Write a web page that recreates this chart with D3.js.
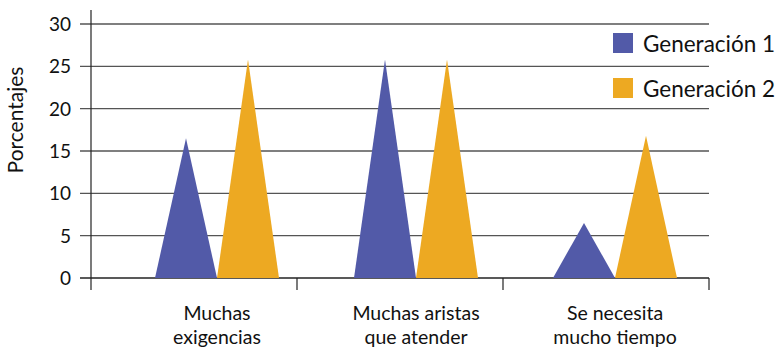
<!DOCTYPE html>
<html><head><meta charset="utf-8">
<script src="https://cdn.jsdelivr.net/npm/d3@7"></script>
<style>body{margin:0;background:#fff}svg{display:block}text{font-family:Lato,"Open Sans",sans-serif;fill:#111}</style>
</head><body><div id="c"></div>
<script>
const categories = [["Muchas","exigencias"],["Muchas aristas","que atender"],["Se necesita","mucho tiempo"]];
const seriesNames = ["Generación 1","Generación 2"];
const gen1 = [16.5, 25.8, 6.5];
const gen2 = [25.8, 25.8, 16.8];
const yTicks = [0,5,10,15,20,25,30];
const colors = ["#525aa8","#eda922"];

const W=783,H=350;
const svg=d3.select("#c").append("svg").attr("width",W).attr("height",H);
const y=d3.scaleLinear().domain([0,30]).range([278,24]);
const xb=d3.scaleBand().domain(d3.range(categories.length)).range([91,709]);
const xc=d3.scalePoint().domain(d3.range(categories.length)).range([217,615]);
const half=31;

// grid
svg.append("g").selectAll("line").data(yTicks).join("line")
 .attr("x1",80).attr("x2",709).attr("y1",d=>y(d)).attr("y2",d=>y(d))
 .attr("stroke",d=>d===0?"#222":"#555").attr("stroke-width",1.3);
svg.append("g").selectAll("text").data(yTicks).join("text")
 .attr("x",71).attr("y",d=>y(d)).attr("dy","0.36em").attr("text-anchor","end")
 .attr("font-size",19).text(d=>d);
// y axis line
svg.append("line").attr("x1",91).attr("x2",91).attr("y1",10).attr("y2",290).attr("stroke","#222").attr("stroke-width",1.2);
// category ticks
const bounds=d3.range(categories.length+1).map(i=>i<categories.length?xb(i):xb(i-1)+xb.bandwidth());
svg.append("g").selectAll("line").data(bounds.slice(1)).join("line")
 .attr("x1",d=>d).attr("x2",d=>d).attr("y1",278).attr("y2",290).attr("stroke","#222").attr("stroke-width",1.2);

// triangles
const data=[gen1,gen2];
data.forEach((vals,s)=>{
  svg.append("g").selectAll("path").data(vals).join("path")
   .attr("fill",colors[s])
   .attr("d",(v,i)=>{
     const cx=xc(i)+(s===0?-half:half);
     return `M${cx-half},${y(0)}L${cx},${y(v)}L${cx+half},${y(0)}Z`;
   });
});

// category labels
const cl=svg.append("g").selectAll("text").data(categories).join("text")
 .attr("text-anchor","middle").attr("font-size",19.5)
 .attr("transform",(d,i)=>`translate(${xc(i)},320)`);
cl.selectAll("tspan").data(d=>d).join("tspan").attr("x",0).attr("dy",(d,j)=>j?24:0).text(d=>d);

// y title
svg.append("text").attr("transform","translate(23,120) rotate(-90)").attr("text-anchor","middle")
 .attr("font-size",21).text("Porcentajes");

// legend
const lg=svg.append("g").selectAll("g").data(seriesNames).join("g")
 .attr("transform",(d,i)=>`translate(613,${33+i*45})`);
lg.append("rect").attr("width",20).attr("height",20).attr("fill",(d,i)=>colors[i]);
lg.append("text").attr("x",30).attr("y",19).attr("font-size",22.5).text(d=>d);
</script></body></html>
